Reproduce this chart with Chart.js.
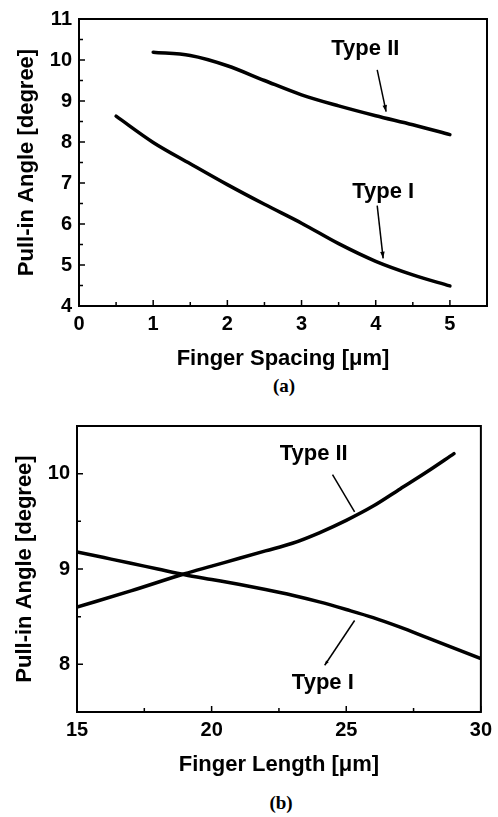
<!DOCTYPE html>
<html>
<head>
<meta charset="utf-8">
<script src="https://cdn.jsdelivr.net/npm/chart.js@4.4.0/dist/chart.umd.min.js"></script>
<style>
  body { margin: 0; background: #fff; }
  #wrap { position: relative; width: 498px; height: 817px; }
  .box { position: absolute; left: 0; width: 498px; }
  .cap { position: absolute; font: bold 19px "Liberation Serif", "Times New Roman", serif; transform: translate(-50%, -50%); }
</style>
</head>
<body>
<div id="wrap">
  <div class="box" style="top:0;height:372px"><canvas id="chart-a"></canvas></div>
  <div class="cap" style="left:284px;top:386px">(a)</div>
  <div class="box" style="top:400px;height:380px"><canvas id="chart-b"></canvas></div>
  <div class="cap" style="left:281px;top:803px">(b)</div>
</div>
<script>
/* Pull-in angle vs finger spacing (a) and finger length (b) */

// ── Data: panel (a) ───────────────────────────────────────────
const SPACING_I   = [0.5, 1, 1.5, 2, 2.5, 3, 3.5, 4, 4.5, 5];
const ANGLE_A_I   = [8.63, 7.99, 7.47, 6.96, 6.48, 6.02, 5.52, 5.09, 4.76, 4.49];
const SPACING_II  = [1, 1.5, 2, 2.5, 3, 3.5, 4, 4.5, 5];
const ANGLE_A_II  = [10.19, 10.11, 9.86, 9.5, 9.15, 8.88, 8.64, 8.42, 8.18];
const X_TICKS_A   = [0, 1, 2, 3, 4, 5];
const X_MINOR_A   = [0.5, 1.5, 2.5, 3.5, 4.5];
const Y_TICKS_A   = [4, 5, 6, 7, 8, 9, 10, 11];
const Y_MINOR_A   = [4.5, 5.5, 6.5, 7.5, 8.5, 9.5, 10.5];

// ── Data: panel (b) ───────────────────────────────────────────
const LENGTH_I    = [15, 16, 17, 18, 19, 20, 21, 22, 23, 24, 25, 26, 27, 28, 29, 30];
const ANGLE_B_I   = [9.18, 9.12, 9.06, 9.0, 8.94, 8.89, 8.84, 8.785, 8.725, 8.655, 8.575, 8.49, 8.39, 8.28, 8.17, 8.06];
const LENGTH_II   = [15, 17, 19, 20, 21, 22, 23, 24, 25, 26, 27, 28, 29];
const ANGLE_B_II  = [8.6, 8.77, 8.95, 9.03, 9.11, 9.19, 9.27, 9.38, 9.51, 9.66, 9.84, 10.02, 10.21];
const X_TICKS_B   = [15, 20, 25, 30];
const X_MINOR_B   = [17.5, 22.5, 27.5];
const Y_TICKS_B   = [8, 9, 10];
const Y_MINOR_B   = [8.5, 9.5];

const FONT = '"Liberation Sans", Arial, sans-serif';

// ── Frame, inward ticks and labels ────────────────────────────
const frameTicks = {
  id: 'frameTicks',
  afterDatasetsDraw(chart, args, o) {
    const { ctx, chartArea: a, scales: { x, y } } = chart;
    ctx.save();
    ctx.strokeStyle = '#000';
    ctx.fillStyle = '#000';
    ctx.lineWidth = 2;
    ctx.strokeRect(a.left, a.top, a.right - a.left, a.bottom - a.top);

    ctx.lineWidth = 1.5;
    ctx.beginPath();
    const xt = (vals, len) => vals.forEach(v => {
      const p = x.getPixelForValue(v);
      ctx.moveTo(p, a.bottom); ctx.lineTo(p, a.bottom - len);
    });
    const yt = (vals, len) => vals.forEach(v => {
      const p = y.getPixelForValue(v);
      ctx.moveTo(a.left, p); ctx.lineTo(a.left + len, p);
    });
    xt(o.xMajor, 6); xt(o.xMinor, 4);
    yt(o.yMajor, 6); yt(o.yMinor, 4);
    ctx.stroke();

    ctx.font = 'bold 22px ' + FONT;
    ctx.textAlign = 'center';
    ctx.textBaseline = 'middle';
    o.labels.forEach(l => ctx.fillText(l.text, x.getPixelForValue(l.x), y.getPixelForValue(l.y)));

    o.arrows.forEach(ar => {
      const x1 = x.getPixelForValue(ar.x1), y1 = y.getPixelForValue(ar.y1);
      const x2 = x.getPixelForValue(ar.x2), y2 = y.getPixelForValue(ar.y2);
      ctx.lineWidth = 1.5;
      ctx.beginPath(); ctx.moveTo(x1, y1); ctx.lineTo(x2, y2); ctx.stroke();
      if (ar.head) {
        const ang = Math.atan2(y2 - y1, x2 - x1), s = ar.head;
        ctx.beginPath();
        ctx.moveTo(x2, y2);
        ctx.lineTo(x2 - s * Math.cos(ang - 0.33), y2 - s * Math.sin(ang - 0.33));
        ctx.lineTo(x2 - s * Math.cos(ang + 0.33), y2 - s * Math.sin(ang + 0.33));
        ctx.closePath(); ctx.fill();
      }
    });
    ctx.restore();
  },
};

function series(xs, ys) {
  return {
    data: xs.map((v, i) => ({ x: v, y: ys[i] })),
    borderColor: '#000',
    borderWidth: 3.5,
    pointRadius: 0,
    cubicInterpolationMode: 'monotone',
    borderCapStyle: 'round',
  };
}

function makeChart(id, cfg) {
  return new Chart(document.getElementById(id), {
    type: 'line',
    data: { datasets: cfg.datasets },
    options: {
      responsive: true,
      maintainAspectRatio: false,
      animation: false,
      layout: { padding: cfg.padding },
      plugins: { legend: { display: false }, tooltip: { enabled: false }, frameTicks: cfg.frame },
      scales: {
        x: {
          type: 'linear', min: cfg.xMin, max: cfg.xMax,
          afterBuildTicks: s => { s.ticks = cfg.frame.xMajor.map(v => ({ value: v })); },
          afterFit: s => { s.height = cfg.xH; },
          grid: { display: false, drawTicks: false },
          border: { display: false },
          ticks: { color: '#000', padding: 6, maxRotation: 0, autoSkip: false, font: { family: FONT, size: 20, weight: 'bold' } },
          title: { display: true, text: cfg.xTitle, color: '#000', padding: { top: 0, bottom: cfg.xTitlePad },
                   font: { family: FONT, size: 22, weight: 'bold' } },
        },
        y: {
          type: 'linear', min: cfg.yMin, max: cfg.yMax,
          afterBuildTicks: s => { s.ticks = cfg.frame.yMajor.map(v => ({ value: v })); },
          afterFit: s => { s.width = cfg.yW; },
          grid: { display: false, drawTicks: false },
          border: { display: false },
          ticks: { color: '#000', padding: 7, autoSkip: false, font: { family: FONT, size: 20, weight: 'bold' } },
          title: { display: true, text: 'Pull-in Angle [degree]', color: '#000', padding: { top: cfg.yTitlePad, bottom: 0 },
                   font: { family: FONT, size: 22, weight: 'bold' } },
        },
      },
    },
    plugins: [frameTicks],
  });
}

makeChart('chart-a', {
  datasets: [series(SPACING_I, ANGLE_A_I), series(SPACING_II, ANGLE_A_II)],
  xMin: 0, xMax: 5.5, yMin: 4, yMax: 11,
  padding: { top: 18, right: 11, left: 0, bottom: 0 },
  xH: 66, yW: 79, xTitlePad: 0, yTitlePad: 14,
  xTitle: 'Finger Spacing [\u03bcm]',
  frame: {
    xMajor: X_TICKS_A, xMinor: X_MINOR_A, yMajor: Y_TICKS_A, yMinor: Y_MINOR_A,
    labels: [{ text: 'Type II', x: 3.86, y: 10.28 }, { text: 'Type I', x: 4.1, y: 6.77 }],
    arrows: [
      { x1: 4.02, y1: 9.76, x2: 4.14, y2: 8.74, head: 7 },
      { x1: 4.02, y1: 6.45, x2: 4.1, y2: 5.16, head: 7 },
    ],
  },
});

makeChart('chart-b', {
  datasets: [series(LENGTH_I, ANGLE_B_I), series(LENGTH_II, ANGLE_B_II)],
  xMin: 15, xMax: 30, yMin: 7.5, yMax: 10.5,
  padding: { top: 26, right: 15, left: 0, bottom: 0 },
  xH: 68, yW: 77, xTitlePad: 2, yTitlePad: 12,
  xTitle: 'Finger Length [\u03bcm]',
  frame: {
    xMajor: X_TICKS_B, xMinor: X_MINOR_B, yMajor: Y_TICKS_B, yMinor: Y_MINOR_B,
    labels: [{ text: 'Type II', x: 23.79, y: 10.21 }, { text: 'Type I', x: 24.13, y: 7.81 }],
    arrows: [
      { x1: 24.49, y1: 9.99, x2: 25.31, y2: 9.6, head: 0 },
      { x1: 25.31, y1: 8.46, x2: 24.2, y2: 7.99, head: 5 },
    ],
  },
});
</script>
</body>
</html>
